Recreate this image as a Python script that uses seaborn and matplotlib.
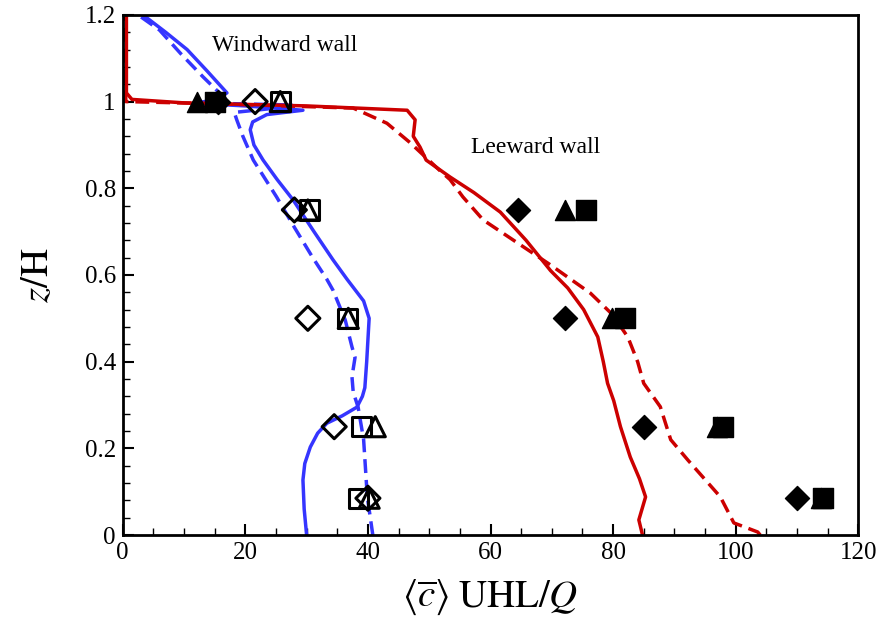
import numpy as np
import pandas as pd
import matplotlib
matplotlib.use("Agg")
import matplotlib.pyplot as plt
from matplotlib.ticker import MultipleLocator
import seaborn as sns

# Profiles: concentration vs height, given as x(z)
z_blue_solid = [0.0, 0.06, 0.127, 0.165, 0.203, 0.235, 0.258, 0.275, 0.295, 0.32, 0.34, 0.40, 0.45,
                0.5, 0.54, 0.59, 0.635, 0.70, 0.773, 0.82, 0.865, 0.90, 0.935, 0.953, 0.97, 0.98,
                0.99, 0.996, 1.005, 1.02, 1.07, 1.12, 1.16, 1.2]
c_blue_solid = [30.0, 29.6, 29.4, 29.7, 30.6, 31.8, 33.3, 35.8, 38.2, 39.1, 39.5, 39.8, 40.0,
                40.2, 39.3, 36.6, 34.3, 31.2, 27.8, 25.2, 22.9, 21.4, 20.8, 21.2, 23.5, 29.4,
                20.0, 12.0, 15.0, 17.0, 13.8, 10.5, 7.0, 3.3]

z_blue_dash = [0.0, 0.088, 0.22, 0.295, 0.33, 0.365, 0.41, 0.434, 0.496, 0.565, 0.59, 0.64,
               0.71, 0.78, 0.865, 0.92, 0.958, 0.975, 0.985, 0.992, 0.997, 1.003, 1.057, 1.11,
               1.165, 1.2]
c_blue_dash = [40.8, 39.9, 39.3, 38.4, 37.6, 37.4, 37.9, 37.4, 36.3, 34.3, 33.3, 31.0,
               28.0, 25.1, 21.3, 19.6, 18.6, 18.2, 25.0, 28.0, 12.0, 17.0, 13.1, 9.5,
               6.0, 2.5]

z_red_solid = [0.0, 0.035, 0.088, 0.13, 0.18, 0.25, 0.31, 0.35, 0.40, 0.457, 0.52, 0.57, 0.61,
               0.68, 0.745, 0.79, 0.826, 0.865, 0.895, 0.92, 0.958, 0.98, 0.99, 0.997, 1.005,
               1.02, 1.2]
c_red_solid = [84.8, 84.2, 85.3, 84.3, 82.8, 81.2, 80.1, 79.1, 78.4, 77.5, 75.2, 72.6, 69.8,
               65.8, 61.6, 57.3, 53.4, 49.5, 48.5, 47.4, 47.7, 46.4, 30.0, 10.0, 1.5,
               0.6, 0.6]

z_red_dash = [0.0, 0.007, 0.028, 0.088, 0.173, 0.22, 0.296, 0.35, 0.40, 0.457, 0.51, 0.558,
              0.623, 0.674, 0.727, 0.78, 0.82, 0.84, 0.905, 0.95, 0.985, 0.995, 1.0, 1.2]
c_red_dash = [104.0, 103.6, 99.7, 97.5, 92.2, 89.4, 87.7, 85.0, 84.0, 82.4, 79.8, 76.3,
              69.8, 64.4, 58.8, 55.5, 53.4, 51.8, 46.9, 43.1, 37.6, 15.0, 0.5, 0.3]

# Experimental points
z_exp = [1.0, 0.75, 0.5, 0.25, 0.085]
ww_diamond = [21.6, 28.0, 30.2, 34.5, 40.0]
ww_triangle = [25.7, 30.2, 36.8, 41.2, 40.2]
ww_square = [25.7, 30.5, 36.6, 38.9, 38.4]
lw_diamond = [15.5, 64.5, 72.2, 85.1, 110.0]
lw_triangle = [12.1, 72.2, 79.9, 97.0, 114.0]
lw_square = [15.0, 75.5, 82.0, 98.0, 114.2]

sns.set_style("ticks")
plt.rcParams['font.family'] = ['Liberation Serif', 'DejaVu Serif']
plt.rcParams['mathtext.fontset'] = 'stix'

fig = plt.figure(figsize=(8.83, 6.2), dpi=100)
ax = fig.add_axes([0.139, 0.137, 0.833, 0.839])

blue = '#3535ff'
red = '#cc0000'
lines = [(c_blue_solid, z_blue_solid, blue, '-'),
         (c_blue_dash, z_blue_dash, blue, (0, (4, 2))),
         (c_red_solid, z_red_solid, red, '-'),
         (c_red_dash, z_red_dash, red, (0, (4, 2)))]
for c, z, col, ls in lines:
    df = pd.DataFrame({'c': c, 'z': z})
    sns.lineplot(data=df, x='c', y='z', sort=False, estimator=None, color=col,
                 linewidth=2.5, linestyle=ls, ax=ax)

# open markers - windward wall
for vals, mk, ms in [(ww_diamond, 'D', 150), (ww_triangle, '^', 210), (ww_square, 's', 190)]:
    sns.scatterplot(x=vals, y=z_exp, marker=mk, s=ms, facecolors='none', edgecolor='black',
                    linewidth=2.2, ax=ax, zorder=5)
# filled markers - leeward wall
for vals, mk, ms in [(lw_diamond, 'D', 150), (lw_triangle, '^', 210), (lw_square, 's', 190)]:
    sns.scatterplot(x=vals, y=z_exp, marker=mk, s=ms, color='black', edgecolor='black',
                    linewidth=1.0, ax=ax, zorder=5)

ax.text(26.5, 1.13, 'Windward wall', fontsize=17, ha='center', va='center', color='black')
ax.text(67.3, 0.893, 'Leeward wall', fontsize=17, ha='center', va='center', color='black')

ax.set_xlim(0, 120)
ax.set_ylim(0, 1.2)
ax.xaxis.set_major_locator(MultipleLocator(20))
ax.xaxis.set_minor_locator(MultipleLocator(5))
ax.yaxis.set_major_locator(MultipleLocator(0.2))
ax.yaxis.set_minor_locator(MultipleLocator(0.04))
ax.set_yticks([0, 0.2, 0.4, 0.6, 0.8, 1.0, 1.2])
ax.set_yticklabels(['0', '0.2', '0.4', '0.6', '0.8', '1', '1.2'])
ax.tick_params(which='major', direction='in', length=8, width=1.5, labelsize=18, pad=5,
               color='black', labelcolor='black')
ax.tick_params(which='minor', direction='in', length=5, width=1.0, color='black')
for sp in ax.spines.values():
    sp.set_linewidth(2.0)
    sp.set_color('black')
    sp.set_visible(True)

ax.set_xlabel(r'$\langle\overline{c}\rangle\;\mathrm{UHL}/Q$', fontsize=28, labelpad=10, color='black')
ax.set_ylabel(r'$z/\mathrm{H}$', fontsize=28, labelpad=20, color='black')

fig.savefig('out.png', dpi=100)
